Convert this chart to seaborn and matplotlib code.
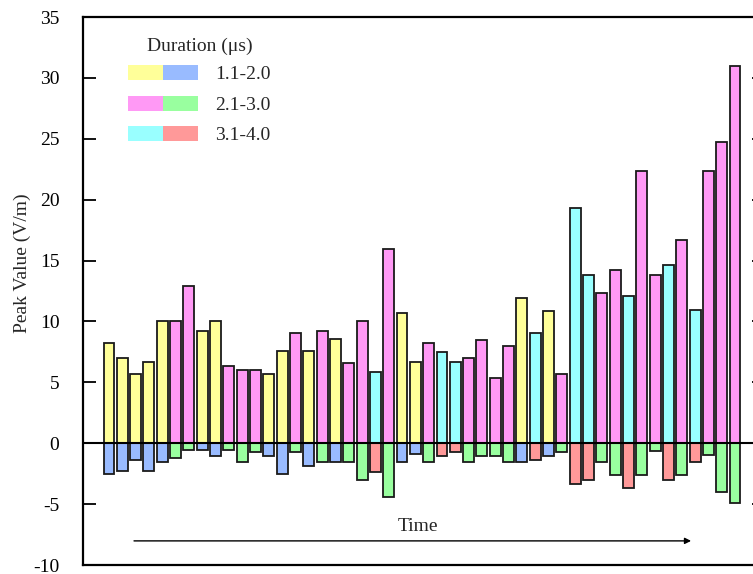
import matplotlib
matplotlib.use("Agg")
import matplotlib.pyplot as plt
from matplotlib.patches import Patch
from matplotlib.legend_handler import HandlerTuple
import numpy as np
import pandas as pd
import seaborn as sns

# Peak values of each event (positive and negative excursion), in time order
peak_pos = [8.2, 7.0, 5.7, 6.7, 10.0, 10.0, 12.9, 9.2, 10.0, 6.35,
            6.0, 6.0, 5.7, 7.55, 9.05, 7.55, 9.2, 8.55, 6.55, 10.0,
            5.85, 15.95, 10.7, 6.7, 8.2, 7.5, 6.65, 7.0, 8.5, 5.35,
            8.0, 11.9, 9.05, 10.85, 5.7, 19.3, 13.8, 12.3, 14.2, 12.1,
            22.35, 13.8, 14.6, 16.65, 10.9, 22.35, 24.7, 31.0]
peak_neg = [-2.5, -2.25, -1.37, -2.25, -1.56, -1.23, -0.55, -0.55, -1.04, -0.55,
            -1.56, -0.68, -1.04, -2.52, -0.68, -1.86, -1.53, -1.53, -1.53, -3.04,
            -2.36, -4.38, -1.53, -0.88, -1.53, -1.04, -0.71, -1.53, -1.04, -1.04,
            -1.53, -1.53, -1.37, -1.04, -0.71, -3.37, -3.01, -1.51, -2.63, -3.67,
            -2.63, -0.63, -3.01, -2.63, -1.51, -0.93, -4.0, -4.88]
# Duration class of each event: 0 -> 1.1-2.0, 1 -> 2.1-3.0, 2 -> 3.1-4.0
duration_class = [0, 0, 0, 0, 0, 1, 1, 0, 0, 1,
                  1, 1, 0, 0, 1, 0, 1, 0, 1, 1,
                  2, 1, 0, 0, 1, 2, 2, 1, 1, 1,
                  1, 0, 2, 0, 1, 2, 2, 1, 1, 2,
                  1, 1, 2, 1, 2, 1, 1, 1]
duration_labels = ["1.1-2.0", "2.1-3.0", "3.1-4.0"]
pos_colors = ["#FFFF99", "#FF99F5", "#99FFFF"]
neg_colors = ["#99BBFF", "#99FF9F", "#FF9999"]
y_ticks = list(range(-10, 36, 5))

sns.set_theme(style="white")
plt.rcParams["font.family"] = ["Liberation Serif", "DejaVu Serif"]
plt.rcParams["axes.unicode_minus"] = False

idx = np.arange(len(peak_pos))
df = pd.DataFrame({
    "event": idx,
    "pos": peak_pos,
    "neg": peak_neg,
    "dur": [duration_labels[c] for c in duration_class],
})

fig = plt.figure(figsize=(7.53, 5.74), dpi=100)
W, H = 753, 574
ax = fig.add_axes([83 / W, 9 / H, (765 - 83) / W, 548 / H])

common = dict(x="event", hue="dur", hue_order=duration_labels, dodge=False,
              width=0.82, edgecolor="#1a1a1a", linewidth=1.3, saturation=1,
              legend=False, ax=ax, native_scale=True)
sns.barplot(data=df, y="pos", palette=pos_colors, **common)
sns.barplot(data=df, y="neg", palette=neg_colors, **common)

ax.axhline(0, color="black", linewidth=1.5, zorder=5)

ax.set_xlim(-1.95, 49.25)
ax.set_ylim(-10, 35)
ax.set_yticks(y_ticks)
ax.set_yticklabels([str(t) for t in y_ticks], fontsize=14)
ax.set_xticks([])
ax.set_xlabel("")
ax.set_ylabel("")
ax.tick_params(axis="y", which="both", direction="in", length=9.5, width=1.3,
               left=True, right=True, pad=17, colors="black")
for side in ["left", "right", "top", "bottom"]:
    ax.spines[side].set_visible(True)
    ax.spines[side].set_color("black")
    ax.spines[side].set_linewidth(1.6)

fig.text(22 / W, 1 - 263 / H, "Peak Value (V/m)", rotation=90,
         ha="center", va="center", fontsize=14)

# Time direction indicator
ax.text(23.2, -6.87, "Time", ha="center", va="center", fontsize=14)
ax.annotate("", xy=(43.7, -8.02), xytext=(1.88, -8.02),
            arrowprops=dict(arrowstyle="-|>", color="black", lw=1.0,
                            mutation_scale=9, shrinkA=0, shrinkB=0))

# Legend: each duration class shows its positive/negative colour pair
handles = [(Patch(facecolor=pc, linewidth=0), Patch(facecolor=nc, linewidth=0))
           for pc, nc in zip(pos_colors, neg_colors)]
leg = ax.legend(handles, duration_labels,
                handler_map={tuple: HandlerTuple(ndivide=None, pad=0)},
                title="Duration (\u03bcs)", frameon=False,
                loc="upper left", bbox_to_anchor=(128 / W, 1 - 38 / H),
                bbox_transform=fig.transFigure,
                handlelength=3.6, handleheight=0.82, handletextpad=0.9,
                labelspacing=0.63, borderpad=0, borderaxespad=0,
                fontsize=14, title_fontsize=14)
leg._legend_box.sep = 7

fig.savefig("out.png", dpi=100)
